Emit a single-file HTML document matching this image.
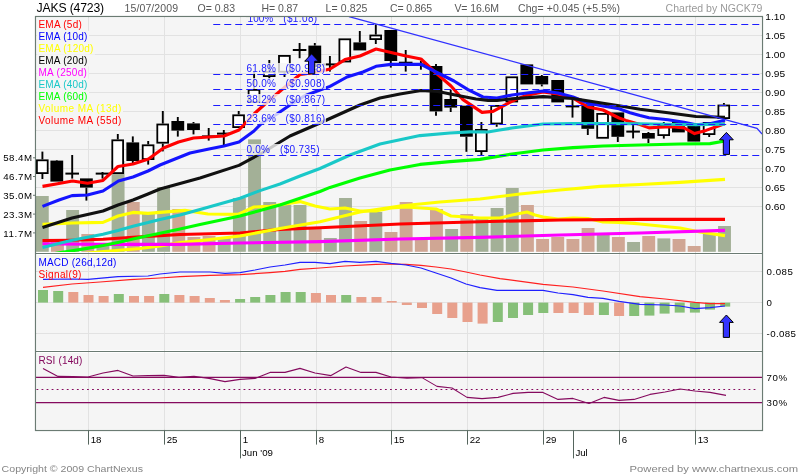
<!DOCTYPE html>
<html><head><meta charset="utf-8"><title>JAKS (4723)</title>
<style>html,body{margin:0;padding:0;background:#fff;font-family:"Liberation Sans",sans-serif}svg{display:block;will-change:transform;transform:translateZ(0)}</style></head>
<body>
<svg width="800" height="475" viewBox="0 0 800 475" font-family="Liberation Sans, sans-serif">
<defs><clipPath id="cm"><rect x="36" y="17" width="726" height="235"/></clipPath>
<clipPath id="cm2"><rect x="36" y="17" width="800" height="235"/></clipPath></defs>
<rect width="800" height="475" fill="#fff"/>
<rect x="35.5" y="16.5" width="727.0" height="414.0" fill="#f5f5f5"/>
<rect x="36.5" y="17.5" width="725.0" height="235.0" fill="none" stroke="#fff" stroke-opacity="0.85" stroke-width="1"/>
<rect x="36.5" y="254.5" width="725.0" height="96.0" fill="none" stroke="#fff" stroke-opacity="0.85" stroke-width="1"/>
<rect x="36.5" y="352.5" width="725.0" height="77.0" fill="none" stroke="#fff" stroke-opacity="0.85" stroke-width="1"/>
<line x1="35.5" x2="762.5" y1="35.5" y2="35.5" stroke="#e2e2e2" stroke-width="1"/>
<line x1="35.5" x2="762.5" y1="54.5" y2="54.5" stroke="#e2e2e2" stroke-width="1"/>
<line x1="35.5" x2="762.5" y1="73.5" y2="73.5" stroke="#e2e2e2" stroke-width="1"/>
<line x1="35.5" x2="762.5" y1="92.5" y2="92.5" stroke="#e2e2e2" stroke-width="1"/>
<line x1="35.5" x2="762.5" y1="111.5" y2="111.5" stroke="#e2e2e2" stroke-width="1"/>
<line x1="35.5" x2="762.5" y1="130.5" y2="130.5" stroke="#e2e2e2" stroke-width="1"/>
<line x1="35.5" x2="762.5" y1="149.5" y2="149.5" stroke="#e2e2e2" stroke-width="1"/>
<line x1="35.5" x2="762.5" y1="168.5" y2="168.5" stroke="#e2e2e2" stroke-width="1"/>
<line x1="35.5" x2="762.5" y1="187.5" y2="187.5" stroke="#e2e2e2" stroke-width="1"/>
<line x1="35.5" x2="762.5" y1="206.5" y2="206.5" stroke="#e2e2e2" stroke-width="1"/>
<line x1="35.5" x2="762.5" y1="271.5" y2="271.5" stroke="#e2e2e2" stroke-width="1"/>
<line x1="35.5" x2="762.5" y1="302.5" y2="302.5" stroke="#e2e2e2" stroke-width="1"/>
<line x1="35.5" x2="762.5" y1="333.5" y2="333.5" stroke="#e2e2e2" stroke-width="1"/>
<line x1="88.5" x2="88.5" y1="16.5" y2="430.5" stroke="#e2e2e2" stroke-width="1"/>
<line x1="164.5" x2="164.5" y1="16.5" y2="430.5" stroke="#e2e2e2" stroke-width="1"/>
<line x1="240.5" x2="240.5" y1="16.5" y2="430.5" stroke="#e2e2e2" stroke-width="1"/>
<line x1="316.5" x2="316.5" y1="16.5" y2="430.5" stroke="#e2e2e2" stroke-width="1"/>
<line x1="391.5" x2="391.5" y1="16.5" y2="430.5" stroke="#e2e2e2" stroke-width="1"/>
<line x1="467.5" x2="467.5" y1="16.5" y2="430.5" stroke="#e2e2e2" stroke-width="1"/>
<line x1="543.5" x2="543.5" y1="16.5" y2="430.5" stroke="#e2e2e2" stroke-width="1"/>
<line x1="619.5" x2="619.5" y1="16.5" y2="430.5" stroke="#e2e2e2" stroke-width="1"/>
<line x1="695.5" x2="695.5" y1="16.5" y2="430.5" stroke="#e2e2e2" stroke-width="1"/>
<rect x="35.85" y="196.0" width="12.9" height="55.8" fill="#a3b097"/>
<rect x="51.01" y="242.0" width="12.9" height="9.8" fill="#d0a694"/>
<rect x="66.17" y="210.0" width="12.9" height="41.8" fill="#a3b097"/>
<rect x="81.33" y="234.0" width="12.9" height="17.8" fill="#d0a694"/>
<rect x="96.49" y="244.0" width="12.9" height="7.8" fill="#a3b097"/>
<rect x="111.65" y="161.0" width="12.9" height="90.8" fill="#a3b097"/>
<rect x="126.81" y="202.0" width="12.9" height="49.8" fill="#d0a694"/>
<rect x="141.97" y="214.0" width="12.9" height="37.8" fill="#a3b097"/>
<rect x="157.13" y="187.0" width="12.9" height="64.8" fill="#a3b097"/>
<rect x="172.29" y="209.0" width="12.9" height="42.8" fill="#d0a694"/>
<rect x="187.45" y="237.0" width="12.9" height="14.8" fill="#d0a694"/>
<rect x="202.61" y="236.0" width="12.9" height="15.8" fill="#d0a694"/>
<rect x="217.77" y="238.0" width="12.9" height="13.8" fill="#a3b097"/>
<rect x="232.93" y="198.0" width="12.9" height="53.8" fill="#a3b097"/>
<rect x="248.09" y="139.4" width="12.9" height="112.3" fill="#a3b097"/>
<rect x="263.25" y="202.0" width="12.9" height="49.8" fill="#a3b097"/>
<rect x="278.41" y="205.0" width="12.9" height="46.8" fill="#a3b097"/>
<rect x="293.57" y="205.0" width="12.9" height="46.8" fill="#a3b097"/>
<rect x="308.73" y="229.0" width="12.9" height="22.8" fill="#d0a694"/>
<rect x="323.89" y="238.0" width="12.9" height="13.8" fill="#a3b097"/>
<rect x="339.05" y="198.0" width="12.9" height="53.8" fill="#a3b097"/>
<rect x="354.21" y="221.0" width="12.9" height="30.8" fill="#d0a694"/>
<rect x="369.37" y="212.0" width="12.9" height="39.8" fill="#a3b097"/>
<rect x="384.53" y="232.0" width="12.9" height="19.8" fill="#d0a694"/>
<rect x="399.69" y="202.0" width="12.9" height="49.8" fill="#d0a694"/>
<rect x="414.85" y="240.0" width="12.9" height="11.8" fill="#d0a694"/>
<rect x="430.01" y="209.0" width="12.9" height="42.8" fill="#d0a694"/>
<rect x="445.17" y="229.0" width="12.9" height="22.8" fill="#a3b097"/>
<rect x="460.33" y="214.0" width="12.9" height="37.8" fill="#d0a694"/>
<rect x="475.49" y="218.0" width="12.9" height="33.8" fill="#a3b097"/>
<rect x="490.65" y="208.0" width="12.9" height="43.8" fill="#a3b097"/>
<rect x="505.81" y="188.0" width="12.9" height="63.8" fill="#a3b097"/>
<rect x="520.97" y="205.0" width="12.9" height="46.8" fill="#d0a694"/>
<rect x="536.13" y="239.0" width="12.9" height="12.8" fill="#d0a694"/>
<rect x="551.29" y="237.0" width="12.9" height="14.8" fill="#d0a694"/>
<rect x="566.45" y="239.0" width="12.9" height="12.8" fill="#d0a694"/>
<rect x="581.61" y="228.0" width="12.9" height="23.8" fill="#d0a694"/>
<rect x="596.77" y="235.0" width="12.9" height="16.8" fill="#a3b097"/>
<rect x="611.93" y="237.0" width="12.9" height="14.8" fill="#d0a694"/>
<rect x="627.09" y="242.0" width="12.9" height="9.8" fill="#a3b097"/>
<rect x="642.25" y="236.0" width="12.9" height="15.8" fill="#d0a694"/>
<rect x="657.41" y="238.4" width="12.9" height="13.3" fill="#a3b097"/>
<rect x="672.57" y="239.0" width="12.9" height="12.8" fill="#d0a694"/>
<rect x="687.73" y="246.0" width="12.9" height="5.8" fill="#d0a694"/>
<rect x="702.89" y="233.0" width="12.9" height="18.8" fill="#a3b097"/>
<rect x="718.05" y="226.0" width="12.9" height="25.8" fill="#a3b097"/>
<g clip-path="url(#cm)">
<polyline points="42.5,224.4 72.0,223.0 103.0,222.4 118.0,216.0 133.0,212.4 148.0,213.4 160.0,212.4 185.0,210.4 208.0,214.0 238.0,214.4 254.0,207.0 270.0,206.4 285.0,204.0 300.0,201.6 315.0,206.0 330.0,209.0 345.0,208.0 360.0,211.0 376.0,211.0 391.0,208.0 406.0,207.0 421.0,208.0 436.0,209.0 451.0,216.0 466.0,217.0 480.0,218.0 500.0,218.0 512.0,215.0 527.0,212.0 535.0,215.0 543.0,217.0 558.0,219.0 573.0,218.0 588.0,218.6 603.0,222.0 619.0,222.4 634.0,223.4 640.0,224.0 680.0,228.0 700.0,232.0 725.0,235.6" fill="none" stroke="#ffff00" stroke-width="3.1" stroke-linejoin="round" />
<polyline points="42.5,240.6 72.0,240.2 103.0,239.3 133.0,237.3 160.0,235.6 180.0,234.5 240.0,233.0 280.0,229.4 320.0,227.7 400.0,224.0 480.0,221.7 560.0,220.0 640.0,219.4 725.0,219.4" fill="none" stroke="#ff0000" stroke-width="3.1" stroke-linejoin="round" />
</g>
<g stroke="#000" stroke-width="1.9">
<line x1="42.4" x2="42.4" y1="151.6" y2="159.4"/>
<line x1="42.4" x2="42.4" y1="174" y2="179"/>
<rect x="36.9" y="160.3" width="10.8" height="12.8" fill="#fff" stroke-width="1.8"/>
<line x1="56.8" x2="56.8" y1="160" y2="160.6"/>
<rect x="50.4" y="160.6" width="12.8" height="21.0" fill="#000" stroke="none"/>
<line x1="72.2" x2="72.2" y1="155" y2="178.6"/>
<line x1="65.4" x2="79.0" y1="173.6" y2="173.6" stroke-width="2"/>
<line x1="86.4" x2="86.4" y1="187.6" y2="200.6"/>
<rect x="80.0" y="178.4" width="12.8" height="9.2" fill="#000" stroke="none"/>
<line x1="102.5" x2="102.5" y1="172" y2="178.6"/>
<line x1="95.7" x2="109.3" y1="173.6" y2="173.6" stroke-width="2"/>
<line x1="117.8" x2="117.8" y1="134" y2="139.4"/>
<rect x="112.3" y="140.3" width="10.8" height="32.8" fill="#fff" stroke-width="1.8"/>
<line x1="132.8" x2="132.8" y1="136.4" y2="142.4"/>
<line x1="132.8" x2="132.8" y1="161" y2="163"/>
<rect x="126.4" y="142.4" width="12.8" height="18.6" fill="#000" stroke="none"/>
<line x1="148.2" x2="148.2" y1="141" y2="144.4"/>
<line x1="148.2" x2="148.2" y1="160" y2="164.6"/>
<rect x="142.7" y="145.3" width="10.8" height="13.8" fill="#fff" stroke-width="1.8"/>
<line x1="162.8" x2="162.8" y1="111" y2="123.6"/>
<line x1="162.8" x2="162.8" y1="143.6" y2="151.4"/>
<rect x="157.3" y="124.5" width="10.8" height="18.2" fill="#fff" stroke-width="1.8"/>
<line x1="177.8" x2="177.8" y1="117" y2="121"/>
<line x1="177.8" x2="177.8" y1="130.6" y2="136.6"/>
<rect x="171.4" y="121.0" width="12.8" height="9.6" fill="#000" stroke="none"/>
<line x1="193.5" x2="193.5" y1="122" y2="123.4"/>
<line x1="193.5" x2="193.5" y1="130" y2="134.4"/>
<rect x="187.1" y="123.4" width="12.8" height="6.6" fill="#000" stroke="none"/>
<line x1="208.7" x2="208.7" y1="128" y2="140.6"/>
<line x1="201.9" x2="215.5" y1="136.4" y2="136.4" stroke-width="2"/>
<line x1="223.8" x2="223.8" y1="130" y2="145"/>
<line x1="217.0" x2="230.6" y1="133.6" y2="133.6" stroke-width="2"/>
<line x1="238.7" x2="238.7" y1="111" y2="114.4"/>
<rect x="233.2" y="115.3" width="10.8" height="11.8" fill="#fff" stroke-width="1.8"/>
<line x1="254.1" x2="254.1" y1="72" y2="89"/>
<rect x="248.6" y="89.9" width="10.8" height="12.2" fill="#fff" stroke-width="1.8"/>
<line x1="269.3" x2="269.3" y1="60" y2="71"/>
<line x1="269.3" x2="269.3" y1="77" y2="79"/>
<rect x="263.8" y="71.9" width="10.8" height="4.2" fill="#fff" stroke-width="1.8"/>
<line x1="284.5" x2="284.5" y1="72.6" y2="77"/>
<rect x="279.0" y="55.9" width="10.8" height="15.8" fill="#fff" stroke-width="1.8"/>
<line x1="299.6" x2="299.6" y1="43" y2="58.2"/>
<line x1="292.8" x2="306.4" y1="50" y2="50" stroke-width="2"/>
<line x1="314.8" x2="314.8" y1="43" y2="45.6"/>
<rect x="308.4" y="45.6" width="12.8" height="21.4" fill="#000" stroke="none"/>
<line x1="329.9" x2="329.9" y1="56" y2="71.6"/>
<line x1="323.1" x2="336.7" y1="64.4" y2="64.4" stroke-width="2"/>
<rect x="339.4" y="39.3" width="10.8" height="22.2" fill="#fff" stroke-width="1.8"/>
<line x1="359.8" x2="359.8" y1="31" y2="42.4"/>
<rect x="353.4" y="42.4" width="12.8" height="8.0" fill="#000" stroke="none"/>
<line x1="375.8" x2="375.8" y1="24.4" y2="34.6"/>
<line x1="375.8" x2="375.8" y1="40" y2="44"/>
<rect x="370.3" y="35.5" width="10.8" height="3.6" fill="#fff" stroke-width="1.8"/>
<line x1="390.8" x2="390.8" y1="61" y2="67.6"/>
<rect x="384.4" y="30.0" width="12.8" height="31.0" fill="#000" stroke="none"/>
<line x1="405.7" x2="405.7" y1="50" y2="71.6"/>
<line x1="398.9" x2="412.5" y1="62.7" y2="62.7" stroke-width="2"/>
<line x1="420.9" x2="420.9" y1="60.8" y2="69.7"/>
<line x1="414.1" x2="427.7" y1="64.4" y2="64.4" stroke-width="2"/>
<line x1="436.0" x2="436.0" y1="64" y2="66"/>
<line x1="436.0" x2="436.0" y1="111.4" y2="115.8"/>
<rect x="429.6" y="66.0" width="12.8" height="45.4" fill="#000" stroke="none"/>
<line x1="450.7" x2="450.7" y1="90" y2="99"/>
<line x1="450.7" x2="450.7" y1="107.6" y2="112"/>
<rect x="444.3" y="99.0" width="12.8" height="8.6" fill="#000" stroke="none"/>
<line x1="466.4" x2="466.4" y1="136.7" y2="151.8"/>
<rect x="460.0" y="105.7" width="12.8" height="31.0" fill="#000" stroke="none"/>
<line x1="481.4" x2="481.4" y1="122" y2="129"/>
<line x1="481.4" x2="481.4" y1="152" y2="155"/>
<rect x="475.9" y="129.9" width="10.8" height="21.2" fill="#fff" stroke-width="1.8"/>
<line x1="496.7" x2="496.7" y1="124.4" y2="126.8"/>
<rect x="491.2" y="105.9" width="10.8" height="17.6" fill="#fff" stroke-width="1.8"/>
<rect x="506.4" y="77.3" width="10.8" height="24.2" fill="#fff" stroke-width="1.8"/>
<rect x="520.4" y="64.4" width="12.8" height="20.0" fill="#000" stroke="none"/>
<line x1="541.8" x2="541.8" y1="75" y2="76"/>
<line x1="541.8" x2="541.8" y1="84.4" y2="86.4"/>
<rect x="535.4" y="76.0" width="12.8" height="8.4" fill="#000" stroke="none"/>
<rect x="551.3" y="80.0" width="12.8" height="22.4" fill="#000" stroke="none"/>
<line x1="572.5" x2="572.5" y1="99" y2="117.6"/>
<line x1="565.7" x2="579.3" y1="106.4" y2="106.4" stroke-width="2"/>
<line x1="587.8" x2="587.8" y1="128.8" y2="135"/>
<rect x="581.4" y="104.4" width="12.8" height="24.4" fill="#000" stroke="none"/>
<rect x="597.2" y="113.9" width="10.8" height="23.9" fill="#fff" stroke-width="1.8"/>
<line x1="617.8" x2="617.8" y1="136.8" y2="142"/>
<rect x="611.4" y="112.4" width="12.8" height="24.4" fill="#000" stroke="none"/>
<line x1="633.1" x2="633.1" y1="125" y2="138.4"/>
<line x1="626.3" x2="639.9" y1="131.6" y2="131.6" stroke-width="2"/>
<line x1="648.4" x2="648.4" y1="132" y2="133"/>
<line x1="648.4" x2="648.4" y1="138.6" y2="143"/>
<rect x="642.0" y="133.0" width="12.8" height="5.6" fill="#000" stroke="none"/>
<line x1="663.8" x2="663.8" y1="122" y2="125"/>
<line x1="663.8" x2="663.8" y1="136" y2="138.6"/>
<rect x="658.3" y="125.9" width="10.8" height="9.2" fill="#fff" stroke-width="1.8"/>
<rect x="672.0" y="121.0" width="12.8" height="11.4" fill="#000" stroke="none"/>
<rect x="687.4" y="125.0" width="12.8" height="16.6" fill="#000" stroke="none"/>
<line x1="709.2" x2="709.2" y1="135" y2="137"/>
<rect x="703.7" y="122.9" width="10.8" height="11.2" fill="#fff" stroke-width="1.8"/>
<line x1="723.9" x2="723.9" y1="103" y2="104.6"/>
<rect x="718.4" y="105.5" width="10.8" height="12.6" fill="#fff" stroke-width="1.8"/>
</g>
<g clip-path="url(#cm)">
<polyline points="42.5,186.4 57.5,183.8 72.5,181.0 87.5,183.3 103.0,180.4 118.0,166.5 133.0,164.0 148.5,159.0 163.5,148.0 178.5,142.0 193.5,138.0 209.0,137.0 224.0,136.0 239.0,130.0 254.5,113.5 269.5,100.0 285.0,87.0 300.0,74.5 315.0,72.5 330.0,69.0 345.0,59.6 360.0,56.0 376.0,49.0 391.0,52.4 406.0,56.0 421.0,59.0 436.0,73.0 451.0,86.0 463.0,99.6 482.0,112.4 493.0,111.4 507.0,103.8 516.0,99.4 527.0,95.2 543.0,92.0 558.0,94.0 573.0,98.0 580.0,102.4 588.0,107.0 603.0,110.0 611.0,114.0 619.0,118.0 626.0,120.4 640.0,124.6 649.0,127.9 659.0,127.2 672.0,126.6 684.0,127.9 694.5,133.6 706.0,130.4 718.4,126.0 725.0,123.5" fill="none" stroke="#ff0000" stroke-width="3.1" stroke-linejoin="round" />
<polyline points="42.5,206.4 59.0,200.0 72.0,195.6 87.4,195.0 103.0,191.0 118.4,181.0 133.0,177.0 148.0,171.0 160.0,165.0 175.0,159.0 190.0,153.0 209.0,149.0 224.0,146.0 239.0,142.0 254.0,131.0 262.0,123.0 277.0,114.0 290.0,105.0 305.0,95.6 316.0,91.5 330.0,86.4 347.0,77.0 363.0,72.0 376.0,66.3 391.0,64.4 421.0,64.4 438.0,73.0 454.0,81.0 468.0,89.6 483.0,97.0 497.0,98.0 512.0,95.0 527.0,93.0 543.0,91.0 558.0,93.0 573.0,97.0 588.0,103.0 603.0,106.0 619.0,108.8 630.0,112.7 640.0,115.6 649.0,117.8 668.0,119.7 684.0,122.2 696.0,124.7 711.0,123.5 725.0,120.3" fill="none" stroke="#1414ff" stroke-width="3.1" stroke-linejoin="round" />
<polyline points="42.5,258.0 98.0,252.0 140.0,248.5 160.0,246.0 180.0,242.6 208.0,239.8 240.0,236.0 280.0,228.6 320.0,221.7 360.0,212.0 400.0,206.0 440.0,202.0 480.0,199.0 520.0,194.0 560.0,190.0 600.0,186.4 640.0,184.5 680.0,182.4 725.0,179.4" fill="none" stroke="#ffff00" stroke-width="3.1" stroke-linejoin="round" />
<polyline points="42.5,227.4 72.0,218.0 103.0,211.0 118.0,205.0 133.0,200.0 148.0,194.0 160.0,189.0 200.0,178.0 239.0,165.4 262.0,153.0 290.0,136.0 320.0,123.0 340.0,114.0 360.0,105.0 380.0,98.0 400.0,94.0 421.0,90.5 438.0,91.4 454.0,94.7 476.0,99.0 488.0,100.4 497.0,100.5 512.0,98.8 543.0,96.6 573.0,98.5 603.0,103.2 619.0,105.8 640.0,109.2 668.0,112.8 696.0,116.5 725.0,117.2" fill="none" stroke="#111111" stroke-width="3.1" stroke-linejoin="round" />
<polyline points="42.5,243.8 100.0,244.4 180.0,244.4 240.0,243.0 320.0,241.6 400.0,239.0 480.0,237.4 560.0,235.0 640.0,233.0 725.0,230.4" fill="none" stroke="#ff00ff" stroke-width="3.1" stroke-linejoin="round" />
<polyline points="42.5,247.4 72.0,240.2 103.0,234.2 118.0,230.4 133.0,226.2 148.0,222.6 160.0,219.4 180.0,215.0 200.0,209.4 240.0,198.3 260.0,190.6 280.0,184.0 300.0,176.0 320.0,168.5 350.0,155.0 380.0,144.0 420.0,135.6 450.0,133.0 470.0,131.9 488.0,132.0 498.0,130.2 512.0,128.0 543.0,124.0 573.0,123.6 603.0,123.6 640.0,123.8 665.0,124.2 695.0,124.8 725.0,124.1" fill="none" stroke="#19c8c8" stroke-width="3.1" stroke-linejoin="round" />
<polyline points="42.5,255.6 56.0,253.4 72.0,250.8 87.0,248.4 103.0,245.5 118.0,242.4 133.0,239.0 148.0,235.8 160.0,233.2 180.0,229.0 200.0,224.5 240.0,216.0 280.0,205.0 320.0,191.5 330.0,187.4 360.0,178.0 390.0,170.0 420.0,164.4 450.0,161.6 480.0,159.4 512.0,154.0 543.0,150.0 573.0,147.6 603.0,146.0 640.0,145.0 680.0,144.0 710.0,143.6 725.0,141.0" fill="none" stroke="#00ff00" stroke-width="3.1" stroke-linejoin="round" />
</g>
<line x1="213.25" x2="759.5" y1="24.5" y2="24.5" stroke="#1c1cff" stroke-width="1" stroke-dasharray="7 4"/>
<line x1="213.25" x2="759.5" y1="74.5" y2="74.5" stroke="#1c1cff" stroke-width="1" stroke-dasharray="7 4"/>
<line x1="213.25" x2="759.5" y1="89.5" y2="89.5" stroke="#1c1cff" stroke-width="1" stroke-dasharray="7 4"/>
<line x1="213.25" x2="759.5" y1="105.5" y2="105.5" stroke="#1c1cff" stroke-width="1" stroke-dasharray="7 4"/>
<line x1="213.25" x2="759.5" y1="124.5" y2="124.5" stroke="#1c1cff" stroke-width="1" stroke-dasharray="7 4"/>
<line x1="213.25" x2="759.5" y1="155.5" y2="155.5" stroke="#1c1cff" stroke-width="1" stroke-dasharray="7 4"/>
<polyline points="349,16.6 757,128.3 762,134" fill="none" stroke="#3030ff" stroke-width="1.25" clip-path="url(#cm)"/>
<rect x="246" y="17.0" width="80" height="7.0" fill="#f5f5f5" fill-opacity="0.8"/>
<rect x="246" y="63.0" width="80" height="11.0" fill="#f5f5f5" fill-opacity="0.8"/>
<rect x="246" y="78.0" width="80" height="11.0" fill="#f5f5f5" fill-opacity="0.8"/>
<rect x="246" y="94.0" width="80" height="11.0" fill="#f5f5f5" fill-opacity="0.8"/>
<rect x="246" y="113.0" width="80" height="11.0" fill="#f5f5f5" fill-opacity="0.8"/>
<rect x="246" y="144.0" width="75" height="11.0" fill="#f5f5f5" fill-opacity="0.8"/>
<g clip-path="url(#cm)" font-size="10" fill="#1818ff">
<text x="247.6" y="21.9" textLength="25.6" lengthAdjust="spacing">100%</text><text x="283.2" y="21.9" textLength="34" lengthAdjust="spacing">($1.08)</text>
<text x="246.6" y="71.9" textLength="29.2" lengthAdjust="spacing">61.8%</text><text x="285.6" y="71.9" textLength="39.6" lengthAdjust="spacing">($0.948)</text>
<text x="246.6" y="86.9" textLength="29.2" lengthAdjust="spacing">50.0%</text><text x="285.6" y="86.9" textLength="39.6" lengthAdjust="spacing">($0.908)</text>
<text x="246.6" y="102.9" textLength="29.2" lengthAdjust="spacing">38.2%</text><text x="285.6" y="102.9" textLength="39.6" lengthAdjust="spacing">($0.867)</text>
<text x="246.6" y="121.9" textLength="29.2" lengthAdjust="spacing">23.6%</text><text x="285.6" y="121.9" textLength="39.6" lengthAdjust="spacing">($0.816)</text>
<text x="246.6" y="152.9" textLength="23.2" lengthAdjust="spacing">0.0%</text><text x="280" y="152.9" textLength="39.6" lengthAdjust="spacing">($0.735)</text>
</g>
<polygon points="311.6,53.8 318.5,61.2 314.7,61.2 314.7,73.8 308.5,73.8 308.5,61.2 304.7,61.2" fill="#3333ff" stroke="#000" stroke-width="1" stroke-linejoin="miter"/>
<polygon points="726.4,132.4 733.3,139.8 729.5,139.8 729.5,154.4 723.3,154.4 723.3,139.8 719.5,139.8" fill="#3333ff" stroke="#000" stroke-width="1" stroke-linejoin="miter"/>
<polygon points="726.4,315.0 733.3,322.4 729.5,322.4 729.5,337.4 723.3,337.4 723.3,322.4 719.5,322.4" fill="#3333ff" stroke="#000" stroke-width="1" stroke-linejoin="miter"/>
<rect x="36.5" y="18.8" width="46.9" height="12" fill="#f5f5f5"/>
<text x="38.4" y="28.4" font-size="10" fill="#ff0000" textLength="43.4" lengthAdjust="spacing">EMA (5d)</text>
<rect x="36.5" y="30.8" width="52.5" height="12" fill="#f5f5f5"/>
<text x="38.4" y="40.4" font-size="10" fill="#0000ff" textLength="49" lengthAdjust="spacing">EMA (10d)</text>
<rect x="36.5" y="42.7" width="58.5" height="12" fill="#f5f5f5"/>
<text x="38.4" y="52.3" font-size="10" fill="#ffff00" textLength="55" lengthAdjust="spacing">EMA (120d)</text>
<rect x="36.5" y="54.6" width="52.5" height="12" fill="#f5f5f5"/>
<text x="38.4" y="64.2" font-size="10" fill="#000000" textLength="49" lengthAdjust="spacing">EMA (20d)</text>
<rect x="36.5" y="66.6" width="52.0" height="12" fill="#f5f5f5"/>
<text x="38.4" y="76.2" font-size="10" fill="#ff00ff" textLength="48.5" lengthAdjust="spacing">MA (250d)</text>
<rect x="36.5" y="78.5" width="52.5" height="12" fill="#f5f5f5"/>
<text x="38.4" y="88.1" font-size="10" fill="#19c8c8" textLength="49" lengthAdjust="spacing">EMA (40d)</text>
<rect x="36.5" y="90.5" width="52.5" height="12" fill="#f5f5f5"/>
<text x="38.4" y="100.1" font-size="10" fill="#00ff00" textLength="49" lengthAdjust="spacing">EMA (60d)</text>
<rect x="36.5" y="102.4" width="86.5" height="12" fill="#f5f5f5"/>
<text x="38.4" y="112.0" font-size="10" fill="#ffff00" textLength="83" lengthAdjust="spacing">Volume MA (13d)</text>
<rect x="36.5" y="114.4" width="86.5" height="12" fill="#f5f5f5"/>
<text x="38.4" y="124.0" font-size="10" fill="#ff0000" textLength="83" lengthAdjust="spacing">Volume MA (55d)</text>
<rect x="38.0" y="290.0" width="10" height="12.6" fill="#86bf78"/>
<rect x="53.2" y="291.0" width="10" height="11.6" fill="#86bf78"/>
<rect x="68.3" y="292.0" width="10" height="10.6" fill="#e8a08c"/>
<rect x="83.5" y="295.0" width="10" height="7.6" fill="#e8a08c"/>
<rect x="98.6" y="296.0" width="10" height="6.6" fill="#e8a08c"/>
<rect x="113.8" y="294.0" width="10" height="8.6" fill="#86bf78"/>
<rect x="129.0" y="296.0" width="10" height="6.6" fill="#e8a08c"/>
<rect x="144.1" y="296.0" width="10" height="6.6" fill="#e8a08c"/>
<rect x="159.3" y="294.0" width="10" height="8.6" fill="#86bf78"/>
<rect x="174.4" y="295.0" width="10" height="7.6" fill="#e8a08c"/>
<rect x="189.6" y="296.0" width="10" height="6.6" fill="#e8a08c"/>
<rect x="204.8" y="298.0" width="10" height="4.6" fill="#e8a08c"/>
<rect x="219.9" y="300.0" width="10" height="2.6" fill="#e8a08c"/>
<rect x="235.1" y="299.0" width="10" height="3.6" fill="#86bf78"/>
<rect x="250.2" y="297.0" width="10" height="5.6" fill="#86bf78"/>
<rect x="265.4" y="295.0" width="10" height="7.6" fill="#86bf78"/>
<rect x="280.6" y="292.0" width="10" height="10.6" fill="#86bf78"/>
<rect x="295.7" y="292.0" width="10" height="10.6" fill="#86bf78"/>
<rect x="310.9" y="293.0" width="10" height="9.6" fill="#e8a08c"/>
<rect x="326.0" y="295.0" width="10" height="7.6" fill="#e8a08c"/>
<rect x="341.2" y="295.0" width="10" height="7.6" fill="#86bf78"/>
<rect x="356.4" y="297.0" width="10" height="5.6" fill="#e8a08c"/>
<rect x="371.5" y="297.0" width="10" height="5.6" fill="#e8a08c"/>
<rect x="386.7" y="301.0" width="10" height="1.6" fill="#e8a08c"/>
<rect x="401.8" y="302.6" width="10" height="2.4" fill="#e8a08c"/>
<rect x="417.0" y="302.6" width="10" height="5.4" fill="#e8a08c"/>
<rect x="432.2" y="302.6" width="10" height="11.4" fill="#e8a08c"/>
<rect x="447.3" y="302.6" width="10" height="15.4" fill="#e8a08c"/>
<rect x="462.5" y="302.6" width="10" height="19.4" fill="#e8a08c"/>
<rect x="477.6" y="302.6" width="10" height="21.0" fill="#e8a08c"/>
<rect x="492.8" y="302.6" width="10" height="19.4" fill="#86bf78"/>
<rect x="508.0" y="302.6" width="10" height="15.4" fill="#86bf78"/>
<rect x="523.1" y="302.6" width="10" height="12.4" fill="#86bf78"/>
<rect x="538.3" y="302.6" width="10" height="10.4" fill="#86bf78"/>
<rect x="553.4" y="302.6" width="10" height="10.4" fill="#e8a08c"/>
<rect x="568.6" y="302.6" width="10" height="10.4" fill="#e8a08c"/>
<rect x="583.8" y="302.6" width="10" height="12.4" fill="#e8a08c"/>
<rect x="598.9" y="302.6" width="10" height="12.4" fill="#86bf78"/>
<rect x="614.1" y="302.6" width="10" height="13.4" fill="#e8a08c"/>
<rect x="629.2" y="302.6" width="10" height="13.4" fill="#86bf78"/>
<rect x="644.4" y="302.6" width="10" height="13.0" fill="#86bf78"/>
<rect x="659.6" y="302.6" width="10" height="11.0" fill="#86bf78"/>
<rect x="674.7" y="302.6" width="10" height="10.0" fill="#86bf78"/>
<rect x="689.9" y="302.6" width="10" height="10.0" fill="#86bf78"/>
<rect x="705.0" y="302.6" width="10" height="7.0" fill="#86bf78"/>
<rect x="720.2" y="302.6" width="10" height="4.0" fill="#86bf78"/>
<polyline points="43.0,287.4 72.0,284.0 100.0,282.0 130.0,279.6 160.0,278.0 180.0,276.6 210.0,275.4 240.0,274.6 270.0,272.6 285.0,271.4 300.0,269.4 320.0,268.0 345.0,266.0 376.0,264.4 391.0,264.0 406.0,264.4 421.0,265.4 436.0,267.0 451.0,269.0 466.0,272.0 480.0,275.0 500.0,278.6 543.0,284.4 573.0,287.0 603.0,291.0 640.0,296.6 665.0,299.0 695.0,302.4 710.0,303.6 725.0,303.6" fill="none" stroke="#ff2020" stroke-width="1.2" stroke-linejoin="round" />
<polyline points="43.0,279.4 72.0,279.0 88.0,279.4 118.0,276.6 148.0,276.0 160.0,274.0 180.0,272.0 210.0,272.0 225.0,273.4 240.0,272.6 255.0,270.0 270.0,267.0 285.0,265.0 300.0,262.4 315.0,262.4 330.0,263.6 345.0,261.4 360.0,262.4 376.0,261.4 391.0,263.4 406.0,265.0 421.0,268.0 436.0,273.0 451.0,278.0 466.0,284.0 480.0,287.6 497.0,290.4 512.0,290.4 543.0,290.4 558.0,293.0 573.0,294.6 588.0,297.4 603.0,298.4 619.0,301.4 640.0,304.4 665.0,305.0 680.0,306.0 695.0,308.6 710.0,307.6 725.0,306.0" fill="none" stroke="#2020ff" stroke-width="1.2" stroke-linejoin="round" />
<text x="38.4" y="265.6" font-size="10" fill="#0000ff" textLength="78" lengthAdjust="spacing">MACD (26d,12d)</text>
<text x="38.4" y="277.6" font-size="10" fill="#ff0000" textLength="43" lengthAdjust="spacing">Signal(9)</text>
<line x1="35.5" x2="762.5" y1="377.4" y2="377.4" stroke="#850a5e" stroke-width="1.1"/>
<line x1="35.5" x2="762.5" y1="402.6" y2="402.6" stroke="#850a5e" stroke-width="1.1"/>
<line x1="36.5" x2="758" y1="389.5" y2="389.5" stroke="#850a5e" stroke-width="1.2" stroke-dasharray="1.8 3.25"/>
<polyline points="43.0,368.4 58.0,376.4 73.0,376.6 88.0,377.0 103.0,373.0 118.0,370.4 133.0,376.0 148.0,375.6 164.0,375.4 179.0,377.4 194.0,376.4 209.0,378.4 225.0,381.6 240.0,379.4 255.0,378.4 270.0,372.4 285.0,372.4 300.0,368.4 315.0,373.0 331.0,375.6 346.0,367.0 361.0,372.4 376.0,372.4 391.0,377.0 407.0,378.2 422.0,377.6 437.0,386.4 452.0,388.0 467.0,397.4 482.0,398.6 498.0,397.4 513.0,393.4 528.0,392.4 543.0,392.4 558.0,399.4 573.0,398.4 589.0,403.4 604.0,397.4 619.0,400.4 634.0,399.4 650.0,394.4 665.0,392.0 680.0,389.0 695.0,391.0 710.0,392.4 726.0,395.4" fill="none" stroke="#850a5e" stroke-width="1.1" stroke-linejoin="round" />
<text x="38.4" y="363.6" font-size="10" fill="#850a5e" textLength="44" lengthAdjust="spacing">RSI (14d)</text>
<line x1="35.5" x2="762.5" y1="253.5" y2="253.5" stroke="#6b7b73" stroke-width="1.1"/>
<line x1="35.5" x2="762.5" y1="351.5" y2="351.5" stroke="#6b7b73" stroke-width="1.1"/>
<rect x="35.5" y="16.5" width="727.0" height="414.0" fill="none" stroke="#6b7b73" stroke-width="1.2"/>
<g font-size="9.7" fill="#000">
<text x="765.3" y="20.1" textLength="19.8" lengthAdjust="spacingAndGlyphs">1.10</text>
<text x="765.3" y="39.1" textLength="19.8" lengthAdjust="spacingAndGlyphs">1.05</text>
<text x="765.3" y="58.1" textLength="19.8" lengthAdjust="spacingAndGlyphs">1.00</text>
<text x="765.3" y="77.1" textLength="19.8" lengthAdjust="spacingAndGlyphs">0.95</text>
<text x="765.3" y="96.1" textLength="19.8" lengthAdjust="spacingAndGlyphs">0.90</text>
<text x="765.3" y="115.1" textLength="19.8" lengthAdjust="spacingAndGlyphs">0.85</text>
<text x="765.3" y="134.1" textLength="19.8" lengthAdjust="spacingAndGlyphs">0.80</text>
<text x="765.3" y="153.1" textLength="19.8" lengthAdjust="spacingAndGlyphs">0.75</text>
<text x="765.3" y="172.1" textLength="19.8" lengthAdjust="spacingAndGlyphs">0.70</text>
<text x="765.3" y="191.1" textLength="19.8" lengthAdjust="spacingAndGlyphs">0.65</text>
<text x="765.3" y="210.1" textLength="19.8" lengthAdjust="spacingAndGlyphs">0.60</text>
<text x="766.6" y="275.2" textLength="26.3" lengthAdjust="spacing">0.085</text><text x="766.6" y="306.2">0</text><text x="766.6" y="336.8" textLength="29.4" lengthAdjust="spacing">-0.085</text>
<text x="766.6" y="381.2" textLength="20.5" lengthAdjust="spacing">70%</text><text x="766.6" y="406.2" textLength="20.5" lengthAdjust="spacing">30%</text>
<text x="3.2" y="161.4" textLength="28.8" lengthAdjust="spacing">58.4M</text>
<line x1="33" x2="36" y1="157.8" y2="157.8" stroke="#6b7b73" stroke-width="1"/>
<text x="3.2" y="180.1" textLength="28.8" lengthAdjust="spacing">46.7M</text>
<line x1="33" x2="36" y1="176.5" y2="176.5" stroke="#6b7b73" stroke-width="1"/>
<text x="3.2" y="198.9" textLength="28.8" lengthAdjust="spacing">35.0M</text>
<line x1="33" x2="36" y1="195.3" y2="195.3" stroke="#6b7b73" stroke-width="1"/>
<text x="3.2" y="217.7" textLength="28.8" lengthAdjust="spacing">23.3M</text>
<line x1="33" x2="36" y1="214.1" y2="214.1" stroke="#6b7b73" stroke-width="1"/>
<text x="3.2" y="236.5" textLength="28.8" lengthAdjust="spacing">11.7M</text>
<line x1="33" x2="36" y1="232.9" y2="232.9" stroke="#6b7b73" stroke-width="1"/>
<line x1="88.5" x2="88.5" y1="430.5" y2="444.6" stroke="#55655d" stroke-width="1"/>
<text x="90.7" y="443.2">18</text>
<line x1="164.5" x2="164.5" y1="430.5" y2="444.6" stroke="#55655d" stroke-width="1"/>
<text x="166.7" y="443.2">25</text>
<line x1="240.5" x2="240.5" y1="430.5" y2="444.6" stroke="#55655d" stroke-width="1"/>
<text x="242.7" y="443.2">1</text>
<line x1="316.5" x2="316.5" y1="430.5" y2="444.6" stroke="#55655d" stroke-width="1"/>
<text x="318.7" y="443.2">8</text>
<line x1="391.5" x2="391.5" y1="430.5" y2="444.6" stroke="#55655d" stroke-width="1"/>
<text x="393.7" y="443.2">15</text>
<line x1="467.5" x2="467.5" y1="430.5" y2="444.6" stroke="#55655d" stroke-width="1"/>
<text x="469.7" y="443.2">22</text>
<line x1="543.5" x2="543.5" y1="430.5" y2="444.6" stroke="#55655d" stroke-width="1"/>
<text x="545.7" y="443.2">29</text>
<line x1="619.5" x2="619.5" y1="430.5" y2="444.6" stroke="#55655d" stroke-width="1"/>
<text x="621.7" y="443.2">6</text>
<line x1="695.5" x2="695.5" y1="430.5" y2="444.6" stroke="#55655d" stroke-width="1"/>
<text x="697.7" y="443.2">13</text>
<line x1="240.5" x2="240.5" y1="430.5" y2="458.4" stroke="#55655d" stroke-width="1"/>
<line x1="573.5" x2="573.5" y1="430.5" y2="458.4" stroke="#55655d" stroke-width="1"/>
<text x="242" y="456">Jun '09</text><text x="575.4" y="456">Jul</text>
</g>
<text x="36.6" y="11.9" font-size="12.2" fill="#000" textLength="67.5" lengthAdjust="spacing">JAKS (4723)</text>
<g font-size="10.5" fill="#585858">
<text x="124.6" y="12" textLength="53.4" lengthAdjust="spacing">15/07/2009</text>
<text x="197.6" y="12" textLength="37.4" lengthAdjust="spacing">O= 0.83</text>
<text x="261.6" y="12" textLength="36.6" lengthAdjust="spacing">H= 0.87</text>
<text x="325.6" y="12" textLength="41.8" lengthAdjust="spacing">L= 0.825</text>
<text x="390" y="12" textLength="42" lengthAdjust="spacing">C= 0.865</text>
<text x="454.4" y="12" textLength="44.6" lengthAdjust="spacing">V= 16.6M</text>
<text x="518" y="12" textLength="102" lengthAdjust="spacing">Chg= +0.045 (+5.5%)</text>
</g>
<text x="665.6" y="12" font-size="10.5" fill="#9a9a9a" textLength="96.8" lengthAdjust="spacing">Charted by NGCK79</text>
<text x="1.6" y="471.6" font-size="9.6" fill="#858585" textLength="141.4" lengthAdjust="spacingAndGlyphs">Copyright © 2009 ChartNexus</text>
<text x="629.6" y="471.6" font-size="9.6" fill="#858585" textLength="168.4" lengthAdjust="spacingAndGlyphs">Powered by www.chartnexus.com</text>
</svg>
</body></html>
